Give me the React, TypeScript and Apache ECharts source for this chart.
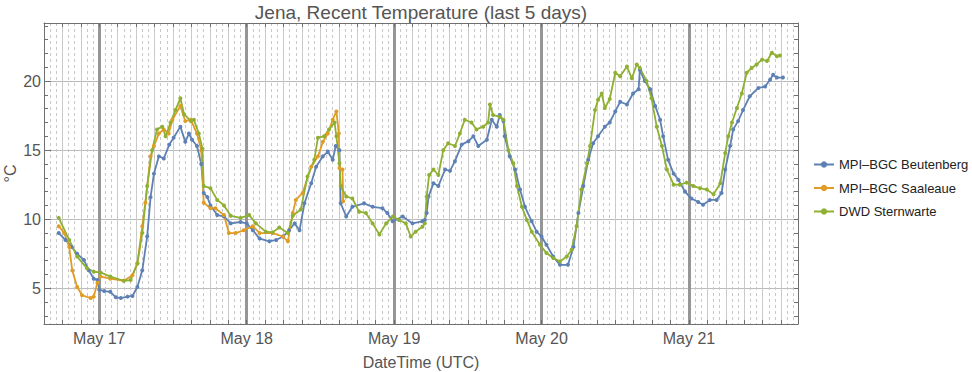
import React, { useEffect, useRef } from 'react';
import * as echarts from 'echarts';

// x values: hours since May 17 00:00 UTC
const dayLabels = ['May 17', 'May 18', 'May 19', 'May 20', 'May 21'];

const beutenberg: [number, number][] = [
  [-6.6, 9.0], [-5.5, 8.5], [-4.5, 8.0], [-3.6, 7.5], [-2.5, 7.05], [-1.7, 6.3], [-0.9, 5.7], [-0.3, 5.6],
  [0, 4.9], [0.8, 4.8], [1.8, 4.75], [2.7, 4.35], [3.5, 4.3], [4.6, 4.4], [5.4, 4.45], [6.2, 5.1], [7.0, 6.3],
  [7.8, 8.75], [8.35, 11.6], [8.9, 13.3], [9.7, 14.55], [10.5, 14.4], [11.4, 15.4], [12.1, 15.9], [13.2, 16.7],
  [14.0, 15.6], [14.6, 16.2], [15.1, 15.75], [15.9, 15.3], [16.6, 14.0], [17.0, 11.9], [17.6, 11.6], [18.1, 11.0],
  [19.2, 10.3], [20.3, 10.2], [21.4, 9.7], [23.0, 9.8], [24.0, 9.7], [25.0, 9.2], [26.1, 8.6], [27.7, 8.4],
  [28.8, 8.5], [29.9, 8.75], [30.9, 9.2], [31.8, 9.7], [32.6, 9.2], [33.4, 11.15], [34.5, 12.6], [35.3, 13.8],
  [36.4, 14.55], [37.2, 14.9], [38.0, 14.3], [38.5, 15.3], [39.1, 15.0], [39.3, 11.15], [40.2, 10.2], [41.2, 10.9],
  [43.1, 11.15], [44.5, 10.9], [46.1, 10.8], [46.9, 10.45], [47.75, 9.85], [49.4, 10.2], [51.0, 9.7], [52.6, 9.85],
  [53.0, 9.95], [53.3, 10.45], [53.6, 11.65], [54.4, 12.6], [55.2, 12.4], [56.3, 13.6], [57.1, 13.5], [57.9, 14.2],
  [59.0, 15.4], [60.1, 15.65], [60.9, 16.0], [61.7, 15.3], [63.1, 15.75], [63.9, 17.2], [64.7, 16.7], [65.2, 17.55],
  [65.8, 17.1], [66.0, 16.0], [66.8, 14.55], [67.7, 13.6], [68.5, 12.15], [69.3, 10.9], [70.4, 9.85], [71.2, 9.1],
  [72.0, 8.75], [72.8, 8.15], [73.9, 7.3], [75.0, 6.7], [76.3, 6.7], [77.2, 8.0], [78.0, 10.45], [78.8, 12.4],
  [79.6, 14.3], [80.4, 15.5], [81.2, 16.0], [82.3, 16.7], [83.1, 17.0], [84.0, 17.8], [84.8, 18.5], [85.9, 18.3],
  [86.9, 19.1], [87.8, 19.4], [88.0, 20.8], [88.8, 20.0], [89.7, 19.4], [90.5, 18.2], [91.3, 17.2], [91.8, 16.0],
  [92.6, 14.3], [93.5, 13.3], [94.3, 12.85], [95.35, 12.0], [96.4, 11.5], [97.5, 11.25], [98.3, 11.05], [99.4, 11.4],
  [100.5, 11.4], [101.3, 11.9], [101.9, 13.6], [102.7, 15.3], [103.2, 16.5], [104.0, 17.1], [104.8, 17.9],
  [105.9, 18.9], [107.3, 19.5], [108.4, 19.6], [109.2, 20.1], [109.7, 20.45], [110.3, 20.25], [111.3, 20.25],
];

const saaleaue: [number, number][] = [
  [-6.6, 9.5], [-5.7, 9.0], [-4.9, 8.0], [-4.4, 6.3], [-3.6, 5.1], [-2.8, 4.5], [-1.4, 4.3], [-0.9, 4.4],
  [-0.3, 5.4], [0.2, 5.85], [1.8, 5.7], [4.0, 5.55], [5.4, 5.95], [6.2, 6.8], [7.0, 9.5], [7.5, 11.2],
  [8.35, 14.55], [8.9, 15.3], [9.7, 16.2], [10.5, 16.5], [11.3, 16.2], [11.9, 17.2], [13.2, 18.2], [14.0, 17.1],
  [14.9, 17.2], [15.9, 16.2], [16.6, 15.0], [17.0, 11.2], [18.1, 10.8], [18.9, 10.8], [20.3, 10.3], [21.1, 9.0],
  [22.2, 9.0], [23.5, 9.2], [25.0, 9.5], [26.1, 9.0], [28.2, 9.0], [29.9, 8.75], [30.7, 8.4], [31.5, 10.45],
  [32.0, 11.4], [33.1, 11.9], [34.5, 13.8], [35.6, 14.55], [36.4, 15.6], [37.2, 16.2], [38.0, 17.2], [38.6, 17.8],
  [39.0, 16.2], [39.1, 13.7], [39.6, 13.6], [39.7, 11.3],
];

const sternwarte: [number, number][] = [
  [-6.6, 10.1], [-4.9, 8.5], [-3.6, 7.3], [-2.0, 6.45], [-0.9, 6.2], [0.2, 6.15], [1.8, 5.85], [4.0, 5.55],
  [5.1, 5.6], [6.2, 6.8], [7.0, 9.0], [7.8, 12.4], [8.6, 15.0], [9.4, 16.5], [10.25, 16.7], [10.8, 16.0],
  [11.6, 17.0], [12.4, 17.9], [13.2, 18.75], [13.8, 17.6], [14.9, 17.1], [15.4, 17.2], [16.2, 16.2], [16.8, 15.1],
  [17.0, 12.4], [18.1, 12.25], [19.2, 11.4], [20.3, 11.0], [21.4, 10.25], [23.0, 10.1], [24.4, 10.3], [25.5, 9.7],
  [27.1, 9.1], [28.2, 9.05], [29.3, 9.4], [30.7, 9.0], [31.5, 10.25], [32.8, 10.7], [33.9, 13.1], [35.0, 14.3],
  [35.6, 15.9], [36.6, 16.0], [37.4, 16.5], [38.3, 17.0], [38.6, 16.0], [39.1, 14.05], [39.3, 12.4], [40.2, 11.65],
  [41.2, 11.5], [42.3, 10.55], [43.4, 10.45], [44.5, 9.7], [45.6, 8.9], [46.7, 9.7], [47.8, 10.2], [48.8, 9.95],
  [49.9, 9.7], [50.7, 8.75], [51.5, 9.1], [52.6, 9.45], [53.0, 9.7], [53.3, 11.65], [53.7, 13.2], [54.4, 13.6],
  [55.2, 13.2], [56.0, 15.0], [56.8, 15.5], [57.9, 15.3], [58.7, 16.2], [59.5, 17.2], [60.6, 17.0], [61.4, 16.5],
  [62.5, 16.7], [63.3, 17.0], [63.6, 18.3], [64.1, 17.55], [65.2, 17.4], [65.8, 17.2], [66.6, 15.0], [67.4, 14.05],
  [68.0, 12.4], [68.8, 10.9], [69.6, 9.95], [70.4, 9.1], [71.75, 8.15], [72.8, 7.55], [73.9, 7.2], [75.0, 6.95],
  [76.1, 7.3], [76.9, 7.8], [77.7, 9.5], [78.5, 12.15], [79.4, 14.05], [79.9, 15.3], [80.7, 17.9], [81.2, 18.65],
  [81.8, 19.1], [82.3, 18.05], [83.1, 18.7], [84.0, 20.6], [84.8, 20.35], [85.9, 21.05], [86.7, 20.2], [87.5, 21.2],
  [88.0, 20.95], [89.1, 20.0], [89.9, 18.75], [90.75, 16.7], [91.6, 15.3], [92.4, 13.6], [93.5, 12.5], [94.5, 12.5],
  [95.6, 12.65], [96.7, 12.4], [97.8, 12.25], [98.9, 12.15], [100.0, 11.8], [101.1, 12.6], [101.9, 14.8],
  [102.4, 16.0], [103.0, 17.0], [103.8, 18.05], [104.6, 19.1], [105.4, 20.6], [106.2, 20.95], [107.0, 21.2],
  [107.9, 21.55], [108.7, 21.45], [109.5, 22.05], [110.3, 21.8], [110.8, 21.85],
];

const seriesNames = ['MPI–BGC Beutenberg', 'MPI–BGC Saaleaue', 'DWD Sternwarte'];
const seriesColors = ['#5E81B5', '#E19C24', '#8FB032'];

const X_MIN = -9;
const X_MAX = 113.75;
const Y_MIN = 2.42;
const Y_MAX = 24.2;

const FONT = 'Liberation Sans, Arial, sans-serif';
const FRAME = '#6f6f6f';
const TEXT = '#555555';

function isMultiple(v: number, step: number) {
  return Math.abs(v / step - Math.round(v / step)) < 1e-6;
}

export default function App() {
  const ref = useRef<HTMLDivElement>(null);

  useEffect(() => {
    if (!ref.current) return;
    const chart = echarts.init(ref.current, undefined, { renderer: 'svg' });

    const hiddenX = (extra: any) => ({
      type: 'value',
      min: X_MIN,
      max: X_MAX,
      position: 'bottom',
      axisLine: { show: false, onZero: false },
      axisTick: { show: false },
      axisLabel: { show: false },
      ...extra,
    });

    const option: any = {
      animation: false,
      backgroundColor: '#ffffff',
      textStyle: { fontFamily: FONT },
      title: {
        text: 'Jena, Recent Temperature (last 5 days)',
        left: 421,
        textAlign: 'center',
        top: 3,
        padding: 0,
        textStyle: { fontFamily: FONT, fontSize: 19, fontWeight: 'normal', color: TEXT },
      },
      graphic: [
        {
          type: 'text',
          x: 10,
          y: 173.5,
          rotation: Math.PI / 2,
          silent: true,
          style: {
            text: '°C',
            fill: TEXT,
            font: `16px ${FONT}`,
            align: 'center',
            verticalAlign: 'middle',
          },
        },
      ],
      legend: {
        orient: 'vertical',
        left: 808,
        top: 153,
        itemWidth: 20,
        itemHeight: 8,
        itemGap: 10.5,
        data: seriesNames,
        textStyle: { fontFamily: FONT, fontSize: 13, color: '#222' },
      },
      grid: {
        left: 44,
        right: 174,
        top: 23,
        bottom: 48,
        containLabel: false,
        outerBoundsMode: 'none',
      },
      xAxis: [
        {
          type: 'value',
          min: X_MIN,
          max: X_MAX,
          position: 'bottom',
          minInterval: 3,
          maxInterval: 3,
          splitNumber: 40,
          name: 'DateTime (UTC)',
          nameLocation: 'middle',
          nameGap: 30,
          nameTextStyle: { fontFamily: FONT, fontSize: 16, color: TEXT },
          axisLine: { show: true, onZero: false, lineStyle: { color: FRAME, width: 1 } },
          axisTick: { show: true, inside: true, length: 4, lineStyle: { color: FRAME } },
          axisLabel: {
            margin: 6,
            fontFamily: FONT,
            fontSize: 16,
            color: TEXT,
            formatter: (v: number) => (isMultiple(v, 24) ? dayLabels[Math.round(v / 24)] ?? '' : ''),
          },
          splitLine: { show: true, showMinLine: false, showMaxLine: false, lineStyle: { color: '#cccccc', width: 1 } },
        },
        hiddenX({
          minInterval: 1,
          maxInterval: 1,
          splitNumber: 120,
          splitLine: { show: true, showMinLine: false, showMaxLine: false, lineStyle: { color: '#c8c8c8', width: 1, type: [3, 3] } },
        }),
        hiddenX({
          minInterval: 24,
          maxInterval: 24,
          splitNumber: 5,
          splitLine: { show: true, showMinLine: false, showMaxLine: false, lineStyle: { color: '#969696', width: 3 } },
        }),
        {
          type: 'value',
          min: X_MIN,
          max: X_MAX,
          position: 'top',
          minInterval: 3,
          maxInterval: 3,
          splitNumber: 40,
          axisLine: { show: true, onZero: false, lineStyle: { color: FRAME, width: 1 } },
          axisTick: { show: true, inside: true, length: 4, lineStyle: { color: FRAME } },
          axisLabel: { show: false },
          splitLine: { show: false },
        },
      ],
      yAxis: [
        {
          type: 'value',
          min: Y_MIN,
          max: Y_MAX,
          position: 'left',
          minInterval: 5,
          maxInterval: 5,
          splitNumber: 4,
          axisLine: { show: true, onZero: false, lineStyle: { color: FRAME, width: 1 } },
          axisTick: { show: true, inside: true, length: 7, lineStyle: { color: FRAME } },
          axisLabel: {
            margin: 3,
            fontFamily: FONT,
            fontSize: 16,
            color: TEXT,
            formatter: (v: number) => (isMultiple(v, 5) ? String(Math.round(v)) : ''),
          },
          splitLine: { show: true, showMinLine: false, showMaxLine: false, lineStyle: { color: '#bbbbbb', width: 1 } },
        },
        {
          type: 'value',
          min: Y_MIN,
          max: Y_MAX,
          position: 'left',
          minInterval: 1,
          maxInterval: 1,
          splitNumber: 22,
          axisLine: { show: false, onZero: false },
          axisTick: { show: true, inside: true, length: 4, lineStyle: { color: FRAME } },
          axisLabel: { show: false },
          splitLine: { show: false },
        },
        {
          type: 'value',
          min: Y_MIN,
          max: Y_MAX,
          position: 'right',
          minInterval: 1,
          maxInterval: 1,
          splitNumber: 22,
          axisLine: { show: true, onZero: false, lineStyle: { color: FRAME, width: 1 } },
          axisTick: { show: true, inside: true, length: 4, lineStyle: { color: FRAME } },
          axisLabel: { show: false },
          splitLine: { show: false },
        },
      ],
      series: [beutenberg, saaleaue, sternwarte].map((data, i) => ({
        name: seriesNames[i],
        type: 'line',
        xAxisIndex: 0,
        yAxisIndex: 0,
        data,
        color: seriesColors[i],
        symbol: 'circle',
        symbolSize: 4,
        showSymbol: true,
        lineStyle: { width: 1.8, color: seriesColors[i] },
        itemStyle: { color: seriesColors[i] },
        emphasis: { disabled: true },
        z: 3,
      })),
    };

    chart.setOption(option);
    return () => chart.dispose();
  }, []);

  return (
    <div
      ref={ref}
      style={{ position: 'fixed', left: 0, top: 0, width: 972, height: 372, background: '#fff' }}
    />
  );
}
